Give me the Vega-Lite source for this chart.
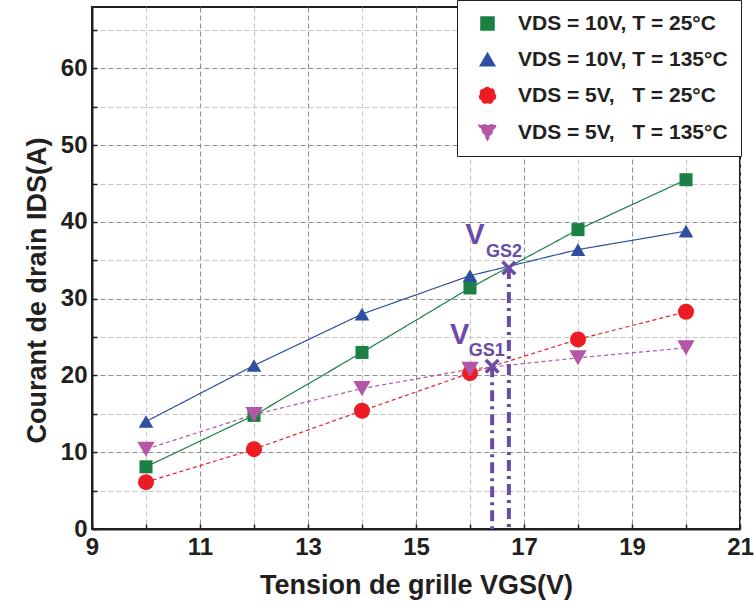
{
  "$schema": "https://vega.github.io/schema/vega-lite/v6.json",
  "width": 648,
  "height": 522,
  "autosize": "none",
  "padding": {"left": 92, "top": 7, "right": 14, "bottom": 83},
  "background": "white",
  "config": {
    "font": "Liberation Sans",
    "view": {"stroke": "#231f20", "strokeWidth": 2},
    "axis": {
      "labelFont": "Liberation Sans",
      "labelFontWeight": "bold",
      "labelFontSize": 24,
      "labelColor": "#231f20",
      "labelFlush": false,
      "titleFont": "Liberation Sans",
      "titleFontWeight": "bold",
      "titleFontSize": 27,
      "titleColor": "#231f20",
      "domainColor": "#231f20",
      "domainWidth": 2,
      "tickColor": "#231f20",
      "tickWidth": 1.5,
      "grid": true,
      "gridDash": [5, 3],
      "gridWidth": 1
    }
  },
  "datasets": {
    "curves": [
      {"vgs": 10, "ids": 8.1, "s": "VDS = 10V, T = 25°C"},
      {"vgs": 12, "ids": 14.8, "s": "VDS = 10V, T = 25°C"},
      {"vgs": 14, "ids": 23.0, "s": "VDS = 10V, T = 25°C"},
      {"vgs": 16, "ids": 31.4, "s": "VDS = 10V, T = 25°C"},
      {"vgs": 18, "ids": 39.0, "s": "VDS = 10V, T = 25°C"},
      {"vgs": 20, "ids": 45.5, "s": "VDS = 10V, T = 25°C"},
      {"vgs": 10, "ids": 14.0, "s": "VDS = 10V, T = 135°C"},
      {"vgs": 12, "ids": 21.3, "s": "VDS = 10V, T = 135°C"},
      {"vgs": 14, "ids": 28.0, "s": "VDS = 10V, T = 135°C"},
      {"vgs": 16, "ids": 33.0, "s": "VDS = 10V, T = 135°C"},
      {"vgs": 18, "ids": 36.4, "s": "VDS = 10V, T = 135°C"},
      {"vgs": 20, "ids": 38.8, "s": "VDS = 10V, T = 135°C"},
      {"vgs": 10, "ids": 6.1, "s": "VDS = 5V,\u00a0\u00a0\u00a0T = 25°C"},
      {"vgs": 12, "ids": 10.4, "s": "VDS = 5V,\u00a0\u00a0\u00a0T = 25°C"},
      {"vgs": 14, "ids": 15.4, "s": "VDS = 5V,\u00a0\u00a0\u00a0T = 25°C"},
      {"vgs": 16, "ids": 20.3, "s": "VDS = 5V,\u00a0\u00a0\u00a0T = 25°C"},
      {"vgs": 18, "ids": 24.7, "s": "VDS = 5V,\u00a0\u00a0\u00a0T = 25°C"},
      {"vgs": 20, "ids": 28.3, "s": "VDS = 5V,\u00a0\u00a0\u00a0T = 25°C"},
      {"vgs": 10, "ids": 10.4, "s": "VDS = 5V,\u00a0\u00a0\u00a0T = 135°C"},
      {"vgs": 12, "ids": 14.9, "s": "VDS = 5V,\u00a0\u00a0\u00a0T = 135°C"},
      {"vgs": 14, "ids": 18.3, "s": "VDS = 5V,\u00a0\u00a0\u00a0T = 135°C"},
      {"vgs": 16, "ids": 20.8, "s": "VDS = 5V,\u00a0\u00a0\u00a0T = 135°C"},
      {"vgs": 18, "ids": 22.3, "s": "VDS = 5V,\u00a0\u00a0\u00a0T = 135°C"},
      {"vgs": 20, "ids": 23.6, "s": "VDS = 5V,\u00a0\u00a0\u00a0T = 135°C"}
    ],
    "markers": [
      {"name": "VGS1", "vgs": 16.41, "ids": 21.2, "base": 0},
      {"name": "VGS2", "vgs": 16.72, "ids": 34.0, "base": 0}
    ],
    "vlabels": [
      {"t": "V", "vgs": 15.81, "ids": 25.3},
      {"t": "V", "vgs": 16.09, "ids": 38.35}
    ],
    "sublabels": [
      {"t": "GS1", "vgs": 16.31, "ids": 23.2},
      {"t": "GS2", "vgs": 16.63, "ids": 36.1}
    ]
  },
  "layer": [
    {
      "data": {"name": "curves"},
      "mark": {"type": "line", "strokeWidth": 1.2},
      "encoding": {
        "x": {
          "field": "vgs", "type": "quantitative",
          "scale": {"domain": [9, 21], "nice": false, "zero": false},
          "axis": {
            "title": "Tension de grille VGS(V)",
            "format": "d",
            "values": [9, 10, 11, 12, 13, 14, 15, 16, 17, 18, 19, 20, 21],
            "labelExpr": "datum.value % 2 == 1 ? datum.label : ''",
            "gridColor": {"condition": {"test": "datum.value % 2 == 1", "value": "#8c8c8c"}, "value": "#c4c4c4"},
            "tickSize": -5,
            "labelPadding": 11,
            "titlePadding": 13
          }
        },
        "y": {
          "field": "ids", "type": "quantitative",
          "scale": {"domain": [0, 68], "nice": false},
          "axis": {
            "title": "Courant de drain IDS(A)",
            "format": "d",
            "values": [0, 5, 10, 15, 20, 25, 30, 35, 40, 45, 50, 55, 60, 65],
            "labelExpr": "datum.value % 10 == 0 ? datum.label : ''",
            "gridColor": {"condition": {"test": "datum.value % 10 == 0", "value": "#8c8c8c"}, "value": "#c4c4c4"},
            "tickSize": -5,
            "labelPadding": 10,
            "titlePadding": 9,
            "titleY": 283
          }
        },
        "color": {
          "field": "s", "type": "nominal",
          "scale": {
            "domain": ["VDS = 10V, T = 25°C", "VDS = 10V, T = 135°C", "VDS = 5V,\u00a0\u00a0\u00a0T = 25°C", "VDS = 5V,\u00a0\u00a0\u00a0T = 135°C"],
            "range": ["#1b8043", "#2f4f9f", "#ed1c24", "#b455a5"]
          },
          "legend": {
            "title": null,
            "orient": "none",
            "legendX": 365,
            "legendY": -7,
            "strokeColor": "#231f20",
            "fillColor": "white",
            "padding": 13,
            "labelFont": "Liberation Sans",
            "labelFontWeight": "bold",
            "labelFontSize": 21,
            "labelColor": "#231f20",
            "labelLimit": 400,
            "rowPadding": 14,
            "symbolOffset": 7,
            "labelOffset": 20
          }
        },
        "strokeDash": {
          "field": "s", "type": "nominal",
          "scale": {
            "domain": ["VDS = 10V, T = 25°C", "VDS = 10V, T = 135°C", "VDS = 5V,\u00a0\u00a0\u00a0T = 25°C", "VDS = 5V,\u00a0\u00a0\u00a0T = 135°C"],
            "range": [[1, 0], [1, 0], [4, 3], [4, 3]]
          },
          "legend": null
        }
      }
    },
    {
      "data": {"name": "curves"},
      "mark": {"type": "point", "filled": true, "opacity": 1},
      "encoding": {
        "x": {"field": "vgs", "type": "quantitative"},
        "y": {"field": "ids", "type": "quantitative"},
        "color": {"field": "s", "type": "nominal"},
        "shape": {
          "field": "s", "type": "nominal",
          "scale": {
            "domain": ["VDS = 10V, T = 25°C", "VDS = 10V, T = 135°C", "VDS = 5V,\u00a0\u00a0\u00a0T = 25°C", "VDS = 5V,\u00a0\u00a0\u00a0T = 135°C"],
            "range": ["square", "triangle-up", "circle", "triangle-down"]
          }
        },
        "size": {
          "field": "s", "type": "nominal",
          "scale": {
            "domain": ["VDS = 10V, T = 25°C", "VDS = 10V, T = 135°C", "VDS = 5V,\u00a0\u00a0\u00a0T = 25°C", "VDS = 5V,\u00a0\u00a0\u00a0T = 135°C"],
            "range": [170, 300, 220, 300]
          }
        }
      }
    },
    {
      "data": {"name": "markers"},
      "mark": {"type": "rule", "strokeWidth": 4, "color": "#6a4ba6", "strokeDash": [11, 5, 3, 5]},
      "encoding": {
        "x": {"field": "vgs", "type": "quantitative"},
        "y": {"field": "ids", "type": "quantitative"},
        "y2": {"field": "base"}
      }
    },
    {
      "data": {"name": "markers"},
      "mark": {"type": "point", "shape": "M-1,-1L1,1M-1,1L1,-1", "filled": false, "opacity": 1, "size": 160, "strokeWidth": 3.5, "color": "#6a4ba6"},
      "encoding": {
        "x": {"field": "vgs", "type": "quantitative"},
        "y": {"field": "ids", "type": "quantitative"}
      }
    },
    {
      "data": {"name": "vlabels"},
      "mark": {"type": "text", "fontSize": 29, "fontWeight": "bold", "color": "#6a4ba6", "font": "Liberation Sans", "baseline": "middle", "align": "center"},
      "encoding": {
        "x": {"field": "vgs", "type": "quantitative"},
        "y": {"field": "ids", "type": "quantitative"},
        "text": {"field": "t"}
      }
    },
    {
      "data": {"name": "sublabels"},
      "mark": {"type": "text", "fontSize": 18, "fontWeight": "bold", "color": "#6a4ba6", "font": "Liberation Sans", "baseline": "middle", "align": "center"},
      "encoding": {
        "x": {"field": "vgs", "type": "quantitative"},
        "y": {"field": "ids", "type": "quantitative"},
        "text": {"field": "t"}
      }
    }
  ]
}
